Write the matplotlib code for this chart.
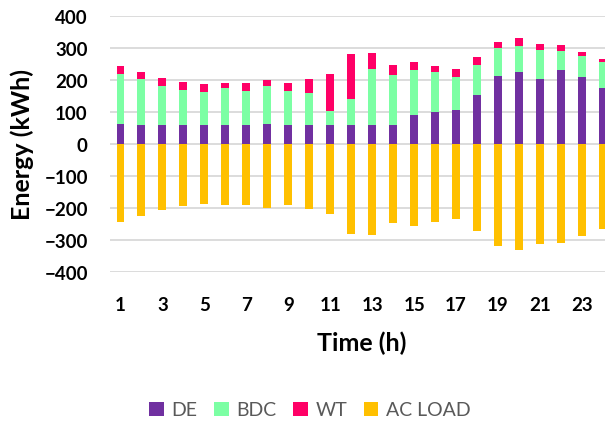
import matplotlib.pyplot as plt
import numpy as np

plt.rcParams['font.family'] = ['Lato', 'DejaVu Sans']

hours = list(range(1, 25))
de = [61, 59, 59, 59, 59, 59, 59, 62, 59, 59, 59, 59, 59, 59, 91, 100, 106, 153, 212, 226, 204, 231, 210, 176]
bdc = [159, 143, 122, 110, 104, 117, 108, 120, 107, 101, 44, 83, 174, 157, 141, 126, 103, 94, 88, 81, 90, 60, 65, 81]
wt = [24, 23, 26, 24, 24, 14, 24, 19, 24, 43, 117, 139, 52, 31, 25, 18, 24, 25, 18, 25, 17, 18, 13, 9]
ac_load = [-244, -225, -207, -193, -187, -190, -191, -201, -190, -203, -220, -281,
           -285, -247, -257, -244, -233, -272, -318, -332, -311, -309, -288, -266]
yticks = [-400, -300, -200, -100, 0, 100, 200, 300, 400]

x = np.array(hours)
de = np.array(de)
bdc = np.array(bdc)
wt = np.array(wt)

fig = plt.figure(figsize=(6.05, 4.27), dpi=100)
ax = fig.add_axes([110 / 605, 1 - 273 / 427, 1 - 110 / 605, 256 / 427])

w = 0.38
ax.bar(x, de, w, color='#7030A0', label='DE', zorder=3)
ax.bar(x, bdc, w, bottom=de, color='#7CFFA4', label='BDC', zorder=3)
ax.bar(x, wt, w, bottom=de + bdc, color='#FF0066', label='WT', zorder=3)
ax.bar(x, ac_load, w, color='#FFC000', label='AC LOAD', zorder=3)

ax.set_xlim(0.5, 24.1)
ax.set_ylim(-400, 400)
ax.set_yticks(yticks)
ax.set_xticks(hours[::2])
for s in ax.spines.values():
    s.set_visible(False)
ax.yaxis.grid(True, color='#D9D9D9', linewidth=1.3, zorder=0)
ax.tick_params(length=0, labelsize=13.5)
ax.tick_params(axis='x', pad=17)
ax.tick_params(axis='y', pad=16)
for lab in ax.get_xticklabels() + ax.get_yticklabels():
    lab.set_fontweight('bold')

# axis titles placed in figure pixels
fig.text(362 / 605, 1 - 343 / 427, 'Time (h)', fontsize=18, fontweight='bold',
         ha='center', va='center')
fig.text(22 / 605, 1 - 145 / 427, 'Energy (kWh)', fontsize=18, fontweight='bold',
         ha='center', va='center', rotation=90)

fig.legend(loc='center', bbox_to_anchor=(310 / 605, 1 - 411 / 427), ncol=4, frameon=False,
           fontsize=14, handlelength=0.75, handleheight=0.75, columnspacing=0.85,
           handletextpad=0.4, labelcolor='#595959')

fig.savefig('out.png', dpi=100)
